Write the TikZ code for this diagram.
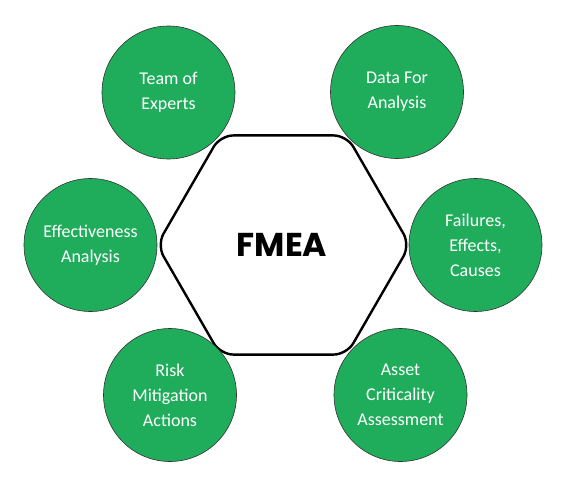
\documentclass[tikz,border=0pt]{standalone}
\usepackage{fontspec}
\setmainfont{Carlito}
\newfontfamily\titlefont{Poppins}
\definecolor{leafgreen}{RGB}{31,173,92}
\tikzset{
    petal/.style={circle, fill=leafgreen, draw=black!80, line width=0.6pt,
        minimum size=133pt, inner sep=0pt, text=white, align=center,
        font=\fontsize{18}{25}\selectfont},
}

\begin{document}
\begin{tikzpicture}[x=1pt,y=-1pt]
    \useasboundingbox[fill=white] (0,0) rectangle (561,492);
    % centre hexagon
    \draw[line width=2.4pt,rounded corners=13pt] (283.5,245) ++(0:126.5)
    -- ++(120:126.5) -- ++(180:126.5) -- ++(240:126.5)
    -- ++(300:126.5) -- ++(0:126.5) -- cycle;
    \node (fmea) at (282,245) {\titlefont\bfseries\fontsize{33}{33}\selectfont FMEA};
    % surrounding circles
    \node[petal] (experts) at (168.5,92.5) {Team of\\Experts};
    \node[petal] (data) at (397,92) {Data For\\Analysis};
    \node[petal] (effect) at (90.5,245) {Effectiveness\\Analysis};
    \node[petal] (failures) at (475.5,245) {Failures,\\Effects,\\Causes};
    \node[petal] (risk) at (170,395) {Risk\\Mitigation\\Actions};
    \node[petal] (asset) at (400.5,395) {Asset\\Criticality\\Assessment};
\end{tikzpicture}
\end{document}
